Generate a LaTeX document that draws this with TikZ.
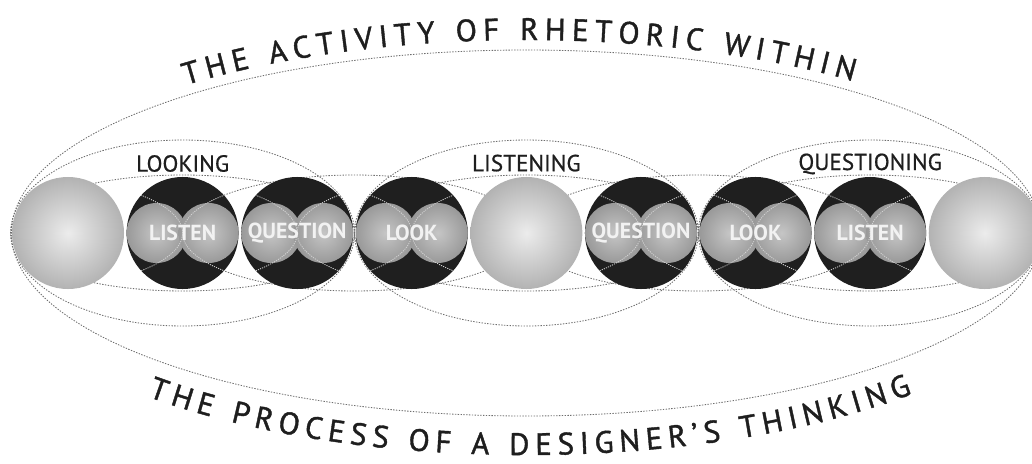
\documentclass[tikz,border=0pt]{standalone}
\usepackage{fontspec}
\setmainfont{PT Sans}
\newfontfamily\arcface[FakeBold=1.3]{PT Sans}
\newfontfamily\labelface[FakeBold=0.6]{PT Sans}
\usetikzlibrary{positioning,calc,backgrounds,decorations.text}
\definecolor{dotgray}{HTML}{6E6E6E}
\definecolor{ink}{HTML}{1E1E1E}
\newcommand{\arcfont}{\arcface\fontsize{22}{24}\selectfont}

\begin{document}
\begin{tikzpicture}[
    x=0.025cm, y=0.025cm,
    node distance=0.05cm,
    ball/.style={circle, inner sep=0pt, minimum size=2.8cm},
    lightball/.style={ball, inner color=gray!15, outer color=gray!60},
    halfdisc/.style={inner color=gray!45, outer color=gray!80},
    cross/.style={draw=gray!35, line width=0.6pt, dash pattern=on 0.8pt off 0.8pt},
    darkball/.style={ball, fill=black!88, text=gray!10,
                font=\bfseries\fontsize{15.5}{16}\selectfont,
                path picture={
                  \coordinate (pc) at (path picture bounding box.center);
                  \shade[halfdisc] ($(pc)+(-26,0)$) circle (30);
                  \shade[halfdisc] ($(pc)+(26,0)$) circle (30);
                  \draw[cross] ($(pc)+(172,0)$) ellipse (172 and 58);
                  \draw[cross] ($(pc)+(-172,0)$) ellipse (172 and 58);
                }},
    orbit/.style={draw=dotgray, line width=0.6pt, dash pattern=on 1pt off 1pt},
    grouplabel/.style={font=\labelface\fontsize{16.5}{18}\selectfont, text=ink, inner sep=0pt, text depth=0pt},
  ]
  \useasboundingbox (0,0) rectangle (1032,463);

  % row of spheres
  \node[lightball] (s1) at (68,230) {};
  \node[darkball, right=of s1] (s2) {LISTEN};
  \node[darkball, right=of s2] (s3) {QUESTION};
  \node[darkball, right=of s3] (s4) {LOOK};
  \node[lightball, right=of s4] (s5) {};
  \node[darkball, right=of s5] (s6) {QUESTION};
  \node[darkball, right=of s6] (s7) {LOOK};
  \node[darkball, right=of s7] (s8) {LISTEN};
  \node[lightball, right=of s8] (s9) {};

  \node[grouplabel, above=0.12cm of s2] (looking) {LOOKING};
  \node[grouplabel, above=0.13cm of s5] (listening) {LISTENING};
  \node[grouplabel, above=0.16cm of s8] (questioning) {QUESTIONING};

  \coordinate (j1) at ($(s3.center)!0.5!(s4.center)$);
  \coordinate (j2) at ($(s6.center)!0.5!(s7.center)$);

  % dotted orbits behind the spheres
  \begin{scope}[on background layer]
    \draw[orbit] (s5.center) ellipse (515 and 183);
    \foreach \c in {s2,s5,s8} {
      \draw[orbit] (\c.center) ellipse (172 and 93);
      \draw[orbit] (\c.center) ellipse (172 and 58);
    }
    \foreach \c in {j1,j2}
      \draw[orbit] (\c) ellipse (172 and 58);
  \end{scope}

  % curved titles
  \path[decorate, decoration={text along path, text align=fit to path, text color=ink,
        text={|\arcfont|THE ACTIVITY OF RHETORIC WITHIN}}]
    (s5.center) ++(130:530 and 193) arc[start angle=130, end angle=52, x radius=530, y radius=193];
  \path[decorate, decoration={text along path, text align=fit to path, text color=ink,
        text={|\arcfont|THE PROCESS OF A DESIGNER’S THINKING}}]
    ($(s5.center)+(0,-14)$) ++(226:545 and 208) arc[start angle=226, end angle=315, x radius=545, y radius=208];
\end{tikzpicture}
\end{document}
